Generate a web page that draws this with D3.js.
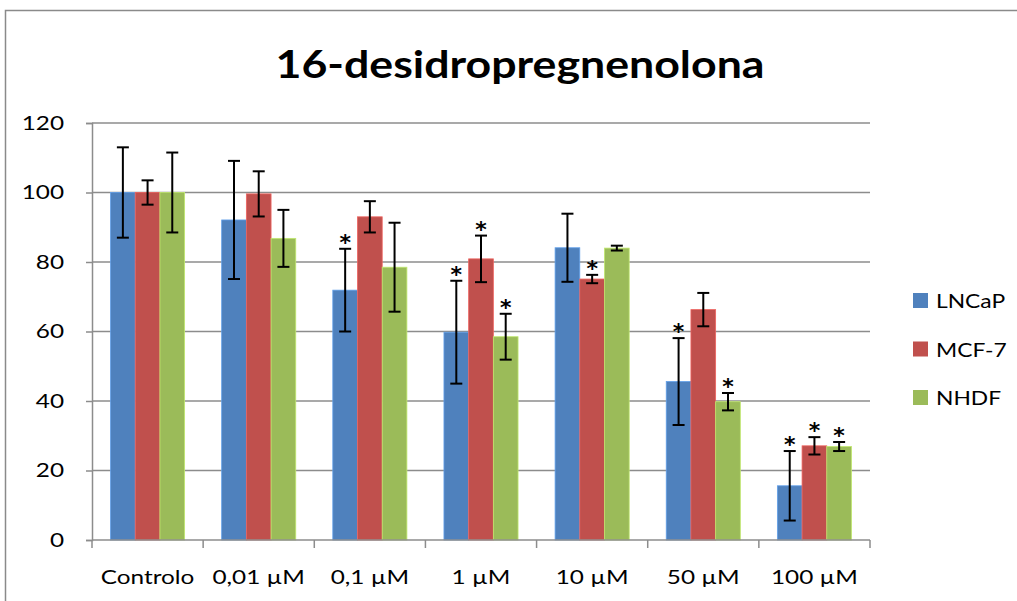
<!DOCTYPE html>
<html><head><meta charset="utf-8">
<script src="https://cdn.jsdelivr.net/npm/d3@7/dist/d3.min.js"></script>
<style>body{margin:0;background:#fff;} svg{display:block;}</style>
</head><body>
<svg id="c" width="1017" height="601"></svg>
<script>
const title = "16-desidropregnenolona";
const categories = ["Controlo", "0,01 µM", "0,1 µM", "1 µM", "10 µM", "50 µM", "100 µM"];
const seriesNames = ["LNCaP", "MCF-7", "NHDF"];
const colors = ["#4F81BD", "#C0504D", "#9BBB59"];
const lncap = [100, 92.1, 71.9, 59.8, 84.1, 45.6, 15.6];
const mcf7 = [100, 99.6, 93.0, 80.9, 75.1, 66.3, 27.1];
const nhdf = [100, 86.8, 78.5, 58.5, 84.0, 39.8, 26.9];
const lncapErr = [13, 17, 11.9, 14.8, 9.8, 12.5, 10];
const mcf7Err = [3.5, 6.5, 4.5, 6.7, 1.2, 4.8, 2.5];
const nhdfErr = [11.5, 8.2, 12.8, 6.6, 0.7, 2.5, 1.3];
const lncapSig = [0, 0, 1, 1, 0, 1, 1];
const mcf7Sig = [0, 0, 0, 1, 1, 0, 1];
const nhdfSig = [0, 0, 0, 1, 0, 1, 1];
const yTicks = [0, 20, 40, 60, 80, 100, 120];

const values = [lncap, mcf7, nhdf];
const errs = [lncapErr, mcf7Err, nhdfErr];
const sigs = [lncapSig, mcf7Sig, nhdfSig];

const FONT = "Lato, 'Open Sans', sans-serif";
const STRETCH = 1.28;
function stretch(sel, k) {
  sel.each(function() {
    const w = this.getComputedTextLength();
    d3.select(this).attr("textLength", w * k).attr("lengthAdjust", "spacingAndGlyphs");
  });
}

const svg = d3.select("#c");
const L = 92, R = 870, T = 123, B = 540;

// outer chart border
svg.append("rect").attr("x", 5.5).attr("y", 10.5).attr("width", 1030).attr("height", 620)
  .attr("fill", "none").attr("stroke", "#8a8a8a").attr("stroke-width", 1.5);

const x = d3.scaleBand().domain(categories).range([L, R]).paddingInner(0).paddingOuter(0);
const xi = d3.scaleBand().domain(seriesNames).range([0, x.bandwidth()]).paddingInner(0).paddingOuter(0.75);
const y = d3.scaleLinear().domain([0, 120]).range([B, T]);

// gridlines
svg.append("g").selectAll("line").data(yTicks.filter(d => d > 0)).join("line")
  .attr("x1", L).attr("x2", R).attr("y1", d => y(d)).attr("y2", d => y(d))
  .attr("stroke", "#8c8c8c").attr("stroke-width", 1.5);

// bars
const data = [];
categories.forEach((c, i) => seriesNames.forEach((s, j) => data.push({c, s, j, v: values[j][i], e: errs[j][i], sig: sigs[j][i]})));

svg.append("g").selectAll("rect").data(data).join("rect")
  .attr("x", d => x(d.c) + xi(d.s)).attr("width", xi.bandwidth())
  .attr("y", d => y(d.v)).attr("height", d => B - y(d.v))
  .attr("fill", d => colors[d.j])
  .attr("stroke", d => d3.color(colors[d.j]).brighter(0.6)).attr("stroke-width", 0.8);

// axes
const yAxis = d3.axisLeft(y).tickValues(yTicks).tickSize(6).tickPadding(22);
const gy = svg.append("g").attr("transform", `translate(${L},0)`).call(yAxis);
gy.select(".domain").attr("stroke", "#8c8c8c").attr("stroke-width", 1.5);
gy.selectAll(".tick line").attr("stroke", "#8c8c8c").attr("stroke-width", 1.5);
gy.selectAll("text").attr("font-family", FONT).attr("font-size", 19).attr("fill", "#000");
stretch(gy.selectAll("text"), STRETCH);

const gx = svg.append("g").attr("transform", `translate(0,${B})`);
gx.append("line").attr("x1", L).attr("x2", R).attr("y1", 0).attr("y2", 0).attr("stroke", "#8c8c8c").attr("stroke-width", 1.5);
const bounds = categories.map(c => x(c)).concat([R]);
gx.selectAll("line.tk").data(bounds).join("line").attr("class", "tk")
  .attr("x1", d => d).attr("x2", d => d).attr("y1", 0).attr("y2", 8)
  .attr("stroke", "#8c8c8c").attr("stroke-width", 1.5);
const xl = gx.selectAll("text").data(categories).join("text")
  .attr("x", d => x(d) + x.bandwidth() / 2).attr("y", 44)
  .attr("text-anchor", "middle").attr("font-family", FONT).attr("font-size", 19)
  .text(d => d);
stretch(xl, STRETCH);

// error bars
const eg = svg.append("g").attr("stroke", "#000").attr("stroke-width", 2);
data.forEach(d => {
  const cx = x(d.c) + xi(d.s) + xi.bandwidth() / 2;
  const y1 = y(d.v + d.e), y2 = y(d.v - d.e);
  eg.append("line").attr("x1", cx).attr("x2", cx).attr("y1", y1).attr("y2", y2);
  eg.append("line").attr("x1", cx - 6).attr("x2", cx + 6).attr("y1", y1).attr("y2", y1);
  eg.append("line").attr("x1", cx - 6).attr("x2", cx + 6).attr("y1", y2).attr("y2", y2);
});

// significance stars
svg.append("g").selectAll("text").data(data.filter(d => d.sig)).join("text")
  .attr("x", d => x(d.c) + xi(d.s) + xi.bandwidth() / 2)
  .attr("y", d => y(d.v + d.e) + 1)
  .attr("text-anchor", "middle").attr("font-family", "'DejaVu Sans', sans-serif")
  .attr("font-size", 22).attr("font-weight", "bold").text("*");

// title
svg.append("text").attr("x", 520).attr("y", 78).attr("text-anchor", "middle")
  .attr("font-family", FONT).attr("font-weight", "bold").attr("font-size", 38)
  .attr("textLength", 489).attr("lengthAdjust", "spacingAndGlyphs").text(title);

// legend
const lg = svg.append("g").selectAll("g").data(seriesNames).join("g")
  .attr("transform", (d, i) => `translate(913,${293 + i * 48.5})`);
lg.append("rect").attr("width", 15).attr("height", 15).attr("fill", (d, i) => colors[i]);
const lt = lg.append("text").attr("x", 23).attr("y", 15).attr("font-family", FONT)
  .attr("font-size", 19).text(d => d);
stretch(lt, 1.2);
</script>
</body></html>
